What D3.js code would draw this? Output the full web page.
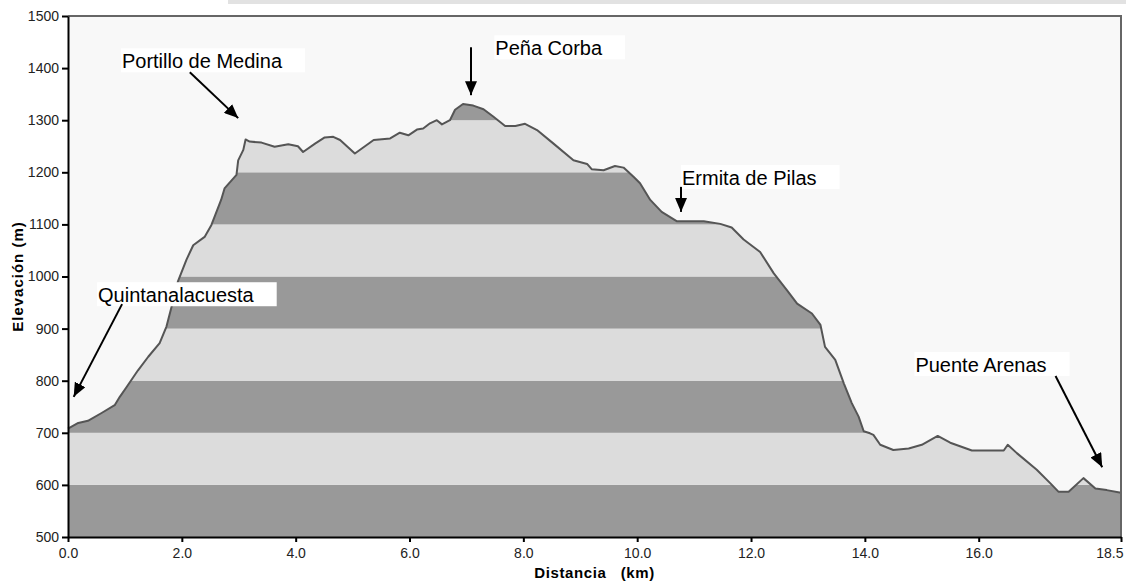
<!DOCTYPE html>
<html>
<head>
<meta charset="utf-8">
<script src="https://cdn.jsdelivr.net/npm/d3@7"></script>
<style>
  body { margin: 0; background: #fff; }
  svg { display: block; font-family: "Liberation Sans", Arial, sans-serif; }
</style>
</head>
<body>
<div id="chart"></div>
<script>
const width = 1126;
const height = 581;

// Profile: distance (km) and elevation (m)
const distKm = [0.00, 0.18, 0.35, 0.59, 0.82, 0.91, 1.03, 1.23, 1.41, 1.61, 1.73, 1.82, 1.93, 2.08, 2.20,
  2.40, 2.52, 2.69, 2.75, 2.96, 2.99, 3.08, 3.12, 3.19, 3.40, 3.63, 3.87, 4.04, 4.13, 4.34, 4.51, 4.66,
  4.78, 5.04, 5.37, 5.66, 5.83, 5.98, 6.13, 6.24, 6.36, 6.48, 6.57, 6.71, 6.80, 6.94, 7.12, 7.30, 7.47,
  7.68, 7.86, 8.03, 8.24, 8.53, 8.88, 9.12, 9.20, 9.41, 9.61, 9.76, 9.94, 10.05, 10.23, 10.43, 10.70,
  11.17, 11.46, 11.66, 11.87, 12.16, 12.40, 12.63, 12.81, 13.07, 13.22, 13.30, 13.48, 13.63, 13.77,
  13.89, 13.98, 14.09, 14.15, 14.27, 14.50, 14.77, 15.00, 15.28, 15.50, 15.88, 16.44, 16.51, 16.67,
  17.02, 17.26, 17.40, 17.58, 17.84, 18.05, 18.25, 18.50];
const elevM = [708, 719, 723, 738, 753, 769, 788, 820, 846, 872, 904, 942, 990, 1032, 1060,
  1076, 1099, 1147, 1169, 1195, 1223, 1243, 1263, 1259, 1257, 1249, 1254, 1250, 1239, 1255, 1267, 1268,
  1262, 1236, 1262, 1265, 1276, 1271, 1282, 1284, 1294, 1300, 1292, 1300, 1320, 1331, 1328, 1321, 1307,
  1289, 1289, 1293, 1281, 1255, 1223, 1216, 1206, 1204, 1212, 1209, 1191, 1179, 1147, 1124, 1106,
  1106, 1101, 1094, 1071, 1047, 1006, 974, 948, 929, 907, 865, 840, 795, 757,
  731, 703, 699, 696, 677, 667, 670, 677, 694, 681, 666, 666, 677, 661,
  629, 603, 587, 587, 613, 593, 590, 585];

const xTicks = [0, 2, 4, 6, 8, 10, 12, 14, 16, 18.5];
const yTicks = [500, 600, 700, 800, 900, 1000, 1100, 1200, 1300, 1400, 1500];
const bandStarts = [500, 600, 700, 800, 900, 1000, 1100, 1200, 1300, 1400];

// Place names, with box corner and arrow in data units
const placeNames = ["Portillo de Medina", "Peña Corba", "Ermita de Pilas", "Quintanalacuesta", "Puente Arenas"];
const labelKm = [0.93, 7.49, 10.77, 0.51, 14.87];
const labelElev = [1438, 1463, 1214, 989, 855];
const arrowFrom = [[2.14, 1392], [7.08, 1440], [10.77, 1172], [0.95, 947], [17.35, 809]];
const arrowTo = [[2.99, 1304], [7.08, 1348], [10.77, 1124], [0.10, 769], [18.17, 634]];

const profile = distKm.map((d, i) => ({km: d, m: elevM[i]}));

const x = d3.scaleLinear().domain([0, 18.5]).range([68, 1121]);
const y = d3.scaleLinear().domain([500, 1500]).range([537, 16]);

const svg = d3.select("#chart")
    .append("svg")
    .attr("width", width)
    .attr("height", height);

// screenshot strip at the very top
svg.append("rect")
    .attr("x", 228).attr("y", 0)
    .attr("width", width - 228).attr("height", 4)
    .attr("fill", "#e2e2e2");

// plot background
svg.append("rect")
    .attr("x", x(0)).attr("y", y(1500))
    .attr("width", x(18.5) - x(0)).attr("height", y(500) - y(1500))
    .attr("fill", "#f8f8f8");

const area = d3.area()
    .x(d => x(d.km))
    .y0(y(500))
    .y1(d => y(d.m));

svg.append("clipPath")
    .attr("id", "under")
    .append("path")
    .attr("d", area(profile));

// alternating 100 m bands, only under the profile
svg.append("g")
    .attr("clip-path", "url(#under)")
    .selectAll("rect")
    .data(bandStarts)
    .enter()
    .append("rect")
    .attr("x", x(0))
    .attr("width", x(18.5) - x(0))
    .attr("y", d => y(d + 100))
    .attr("height", d => y(d) - y(d + 100))
    .attr("fill", (d, i) => i % 2 === 0 ? "#999999" : "#dcdcdc");

const line = d3.line()
    .x(d => x(d.km))
    .y(d => y(d.m));

svg.append("path")
    .datum(profile)
    .attr("d", line)
    .attr("fill", "none")
    .attr("stroke", "#555")
    .attr("stroke-width", 2)
    .attr("stroke-linejoin", "round");

// top and right frame
svg.append("path")
    .attr("d", `M${x(0)},${y(1500)}H${x(18.5)}V${y(500)}`)
    .attr("fill", "none")
    .attr("stroke", "#666")
    .attr("stroke-width", 2);

// axes
const xAxis = svg.append("g")
    .attr("transform", `translate(0,${y(500)})`)
    .call(d3.axisBottom(x).tickValues(xTicks).tickFormat(d3.format(".1f")).tickSize(5).tickSizeOuter(0));
const yAxis = svg.append("g")
    .attr("transform", `translate(${x(0)},0)`)
    .call(d3.axisLeft(y).tickValues(yTicks).tickFormat(d3.format("d")).tickSize(6).tickSizeOuter(0));

[xAxis, yAxis].forEach(g => {
    g.select(".domain").attr("stroke", "#000").attr("stroke-width", 2);
    g.selectAll(".tick line").attr("stroke", "#000").attr("stroke-width", 2);
    g.selectAll(".tick text")
        .attr("fill", "#222")
        .style("font-family", "'Liberation Sans', Arial, sans-serif")
        .style("font-size", "14px");
});
xAxis.selectAll(".tick text").attr("dy", "0.95em");
// last label sits flush against the right edge
xAxis.selectAll(".tick text")
    .filter(d => d === 18.5)
    .attr("text-anchor", "end")
    .attr("x", 2);
yAxis.selectAll(".tick text").attr("x", -9);

// axis titles
svg.append("text")
    .attr("x", (x(0) + x(18.5)) / 2)
    .attr("y", 578)
    .attr("text-anchor", "middle")
    .attr("font-weight", "bold")
    .attr("font-size", 15)
    .attr("letter-spacing", 0.6)
    .attr("xml:space", "preserve")
    .text("Distancia   (km)");

svg.append("text")
    .attr("transform", `translate(23,${(y(500) + y(1500)) / 2}) rotate(-90)`)
    .attr("text-anchor", "middle")
    .attr("font-weight", "bold")
    .attr("font-size", 15)
    .attr("letter-spacing", 1)
    .text("Elevación (m)");

// arrowhead
svg.append("defs").append("marker")
    .attr("id", "head")
    .attr("markerUnits", "userSpaceOnUse")
    .attr("viewBox", "0 0 14 12")
    .attr("refX", 14).attr("refY", 6)
    .attr("markerWidth", 14).attr("markerHeight", 12)
    .attr("orient", "auto")
    .append("path")
    .attr("d", "M0,0L14,6L0,12Z")
    .attr("fill", "#000");

// place labels
placeNames.forEach((name, i) => {
    const g = svg.append("g");
    const bx = x(labelKm[i]);
    const by = y(labelElev[i]);
    const box = g.append("rect")
        .attr("x", bx).attr("y", by)
        .attr("height", 24)
        .attr("fill", "#fff");
    const t = g.append("text")
        .attr("x", bx + 1)
        .attr("y", by + 20)
        .attr("font-size", 20)
        .attr("fill", "#000")
        .text(name);
    box.attr("width", t.node().getComputedTextLength() + 24);

    svg.append("line")
        .attr("x1", x(arrowFrom[i][0])).attr("y1", y(arrowFrom[i][1]))
        .attr("x2", x(arrowTo[i][0])).attr("y2", y(arrowTo[i][1]))
        .attr("stroke", "#000")
        .attr("stroke-width", 2)
        .attr("marker-end", "url(#head)");
});
</script>
</body>
</html>
